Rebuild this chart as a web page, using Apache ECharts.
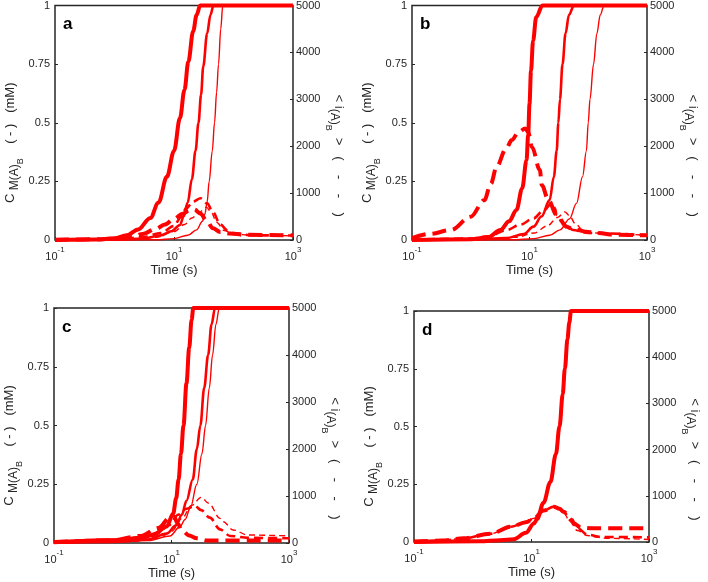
<!DOCTYPE html>
<html><head><meta charset="utf-8">
<script src="https://cdn.jsdelivr.net/npm/echarts@6/dist/echarts.min.js"></script>
<style>html,body{margin:0;padding:0;background:#fff}#c{width:708px;height:582px}</style>
</head><body><div id="c"></div>
<script>
// ---- data: [time (s), value] ----
// panel a
const aS1 = [[0.1,0],[0.5,0.002],[1,0.007],[1.6,0.02],[2.5,0.045],[4,0.094],[5.5,0.16],[7.6,0.27],[10,0.38],[12.6,0.52],[15,0.64],[17.4,0.76],[21,0.89],[24,0.96],[27.5,1],[1000,1]];
const aS2 = [[0.1,0],[1,0.001],[3,0.006],[6,0.02],[9,0.037],[12.6,0.064],[14.5,0.1],[17,0.16],[20,0.26],[23,0.38],[25.8,0.5],[28.5,0.62],[31,0.74],[36,0.88],[41,0.96],[46,1],[1000,1]];
const aS3 = [[0.1,0],[5,0.001],[10,0.006],[17,0.02],[24,0.043],[30,0.08],[33,0.11],[36,0.16],[39,0.25],[44,0.38],[48,0.5],[52,0.63],[56,0.75],[61,0.9],[66,1],[1000,1]];
const aD1 = [[0.1,5],[0.5,15],[1,30],[2,70],[3,130],[5,240],[7,330],[10,450],[14,560],[18,630],[22,650],[28,560],[35,420],[45,250],[60,170],[87,140],[150,110],[1000,100]];
const aD2 = [[0.1,3],[1,15],[3,60],[6,150],[10,300],[13,480],[16,675],[21,820],[28,890],[36,780],[45,600],[60,330],[80,200],[100,150],[200,100],[1000,95]];
const aD3 = [[0.1,2],[2,10],[5,60],[10,180],[15,330],[20,470],[27,600],[35,700],[42,600],[52,380],[70,200],[100,130],[200,100],[1000,90]];
// panel b
const bS1 = [[0.1,0],[1,0.003],[2,0.012],[3.2,0.043],[4.5,0.08],[6,0.128],[7.5,0.22],[8.9,0.34],[9.5,0.45],[10,0.58],[10.6,0.72],[11.5,0.85],[13,0.95],[16.6,1],[1000,1]];
const bS2 = [[0.1,0],[1,0.001],[4,0.008],[8,0.025],[11.7,0.057],[16,0.1],[22,0.17],[26,0.27],[29,0.38],[31,0.5],[33,0.6],[36.5,0.75],[41,0.88],[47,0.96],[57,1],[1000,1]];
const bS3 = [[0.1,0],[5,0.001],[12,0.006],[22,0.02],[33,0.043],[48,0.09],[63,0.156],[80,0.27],[93,0.38],[100,0.5],[107,0.6],[123,0.75],[140,0.88],[160,0.96],[186,1],[1000,1]];
const bD1 = [[0.1,40],[0.2,130],[0.46,213],[1,496],[1.7,850],[2.2,1200],[2.75,1560],[4,1950],[5,2130],[6.5,2300],[8.5,2380],[9.5,2300],[11,1985],[15,1490],[16.2,1170],[21,850],[29,530],[43,283],[55,230],[100,170],[140,150],[300,110],[1000,100]];
const bD2 = [[0.1,10],[1,30],[2,80],[4.1,213],[7,330],[11.7,460],[17,620],[24,780],[27,680],[29,530],[35,400],[43,300],[55,213],[100,150],[1000,100]];
const bD3 = [[0.1,5],[2,20],[6,60],[12,150],[20,300],[30,480],[40,600],[48,520],[60,350],[80,220],[120,150],[1000,100]];
// panel c
const cS1 = [[0.1,0.003],[1.3,0.013],[3,0.022],[4.9,0.034],[8.3,0.07],[10.7,0.126],[12,0.19],[13.2,0.27],[14.5,0.38],[16,0.5],[18,0.68],[20,0.83],[22,0.95],[23.5,1],[1000,1]];
const cS2 = [[0.1,0.002],[1,0.005],[4,0.015],[8.3,0.04],[12,0.075],[15,0.12],[18,0.18],[23,0.27],[27,0.4],[31,0.5],[36,0.66],[42,0.8],[48,0.93],[55,1],[1000,1]];
const cS3 = [[0.1,0.001],[1,0.003],[4,0.01],[9.4,0.03],[14,0.07],[17,0.1],[21,0.15],[27,0.25],[33,0.38],[38,0.5],[44,0.66],[50,0.8],[57,0.93],[65,1],[1000,1]];
const cD1 = [[0.1,20],[1,60],[3,150],[6,320],[9.4,540],[11,560],[13,400],[14.8,277],[20,160],[27,100],[40,55],[1000,50]];
const cD2 = [[0.1,10],[1,40],[3,100],[6,220],[9,380],[13,600],[18,730],[25,790],[32,700],[45,539],[67,290],[100,150],[200,110],[1000,100]];
const cD3 = [[0.1,5],[2,30],[6,100],[10,250],[15,520],[22,800],[32,970],[43,845],[67,525],[76,453],[112,277],[200,170],[1000,150]];
// panel d
const dS1 = [[0.1,0],[1.3,0.003],[3,0.008],[5,0.012],[8,0.04],[11,0.08],[12.5,0.1],[16,0.17],[21,0.26],[26,0.38],[30,0.5],[34,0.64],[37,0.75],[41,0.88],[44,0.95],[47,1],[1000,1]];
const dS2 = dS1;
const dS3 = dS1;
const dD1 = [[0.1,10],[0.3,30],[0.7,80],[2,180],[4.5,330],[8,430],[11,512],[16,680],[24,765],[30,720],[35,656],[49,476],[52,405],[70,310],[100,300],[1000,300]];
const dD2 = [[0.1,10],[0.3,30],[0.7,80],[2,180],[4.5,330],[8,430],[11,512],[16,680],[24,765],[30,720],[35,656],[49,440],[60,300],[90,160],[150,110],[1000,100]];
const dD3 = [[0.1,10],[0.3,30],[0.7,80],[2,180],[4.5,330],[8,430],[11,512],[16,680],[24,765],[30,720],[35,640],[45,450],[60,250],[90,140],[115,115],[200,80],[1000,55]];

const panelLetters = ['a','b','c','d'];
const leftTicks = [0, 0.25, 0.5, 0.75, 1];
const rightTicks = [0, 1000, 2000, 3000, 4000, 5000];
const xExponents = [-1, 1, 3];

// ---- layout ----
const FONT = 'Liberation Sans, Arial, Helvetica, sans-serif';
const TXT = '#262626';
const RED = '#ff0000';
const grids = [
  {left: 55, top: 5, width: 238, height: 235},
  {left: 412, top: 5, width: 235, height: 235},
  {left: 54, top: 308, width: 235, height: 235},
  {left: 414, top: 311, width: 235, height: 231}
];
const solidSets = [[aS1,aS2,aS3],[bS1,bS2,bS3],[cS1,cS2,cS3],[dS1,dS2,dS3]];
const dashedSets = [[aD1,aD2,aD3],[bD1,bD2,bD3],[cD1,cD2,cD3],[dD1,dD2,dD3]];
const solidW = [4, 2.6, 1.4];
const dashedW = [4, 2.6, 1.4];
const dashPat = [[14,7],[9,5],[6,4]];

const nameRich = {
  m: {fontSize: 13, color: TXT, fontFamily: FONT, verticalAlign: 'top', lineHeight: 13},
  s: {fontSize: 12, color: TXT, fontFamily: FONT, verticalAlign: 'top', lineHeight: 12, padding: [5, 0, 0, 0]},
  ss: {fontSize: 9, color: TXT, fontFamily: FONT, verticalAlign: 'top', lineHeight: 9, padding: [12, 0, 0, 0]}
};

const option = {
  animation: false,
  backgroundColor: '#fff',
  textStyle: {fontFamily: FONT},
  title: [], grid: [], xAxis: [], yAxis: [], series: []
};

grids.forEach((g, i) => {
  option.grid.push(Object.assign({show: true, borderColor: TXT, borderWidth: 1.5, backgroundColor: '#fff'}, g));
  option.title.push({text: panelLetters[i], left: g.left + 3, top: g.top + 6,
    textStyle: {fontFamily: FONT, fontSize: 17, fontWeight: 'bold', color: '#000'}});
  option.xAxis.push({
    type: 'log', logBase: 10, gridIndex: i, min: 0.1, max: 1000, interval: 2,
    name: 'Time (s)', nameLocation: 'middle', nameGap: 24,
    nameTextStyle: {fontFamily: FONT, fontSize: 13, color: TXT},
    axisLine: {show: false},
    axisTick: {show: true, inside: true, length: 3, lineStyle: {color: TXT}},
    splitLine: {show: false}, minorTick: {show: false},
    axisLabel: {
      margin: 6, color: TXT, fontFamily: FONT, fontSize: 11,
      formatter: v => {
        const e = Math.round(Math.log10(v));
        return xExponents.indexOf(e) >= 0 ? '{b|10}{s|' + e + '}' : '';
      },
      rich: {
        b: {fontSize: 11, color: TXT, fontFamily: FONT, verticalAlign: 'top', lineHeight: 11, padding: [5, 0, 0, 0]},
        s: {fontSize: 8, color: TXT, fontFamily: FONT, verticalAlign: 'top', lineHeight: 8}
      }
    }
  });
  option.yAxis.push({
    type: 'value', gridIndex: i, min: 0, max: 1, interval: 0.25, position: 'left',
    name: '{m|C}{s| M(A)}{ss|B}{m|    ( - )   (mM)}', nameLocation: 'middle', nameGap: 31, nameRotate: 90,
    nameTextStyle: {fontFamily: FONT, fontSize: 13, color: TXT, padding: [0, 40, 0, 0], rich: nameRich},
    axisLine: {show: false},
    axisTick: {show: true, inside: true, length: 3, lineStyle: {color: TXT}},
    splitLine: {show: false},
    axisLabel: {margin: 5, color: TXT, fontFamily: FONT, fontSize: 11,
      formatter: v => leftTicks.indexOf(v) >= 0 ? String(v) : ''}
  });
  option.yAxis.push({
    type: 'value', gridIndex: i, min: 0, max: 5000, interval: 1000, position: 'right',
    name: '{m|< i}{s|(A)}{ss|B}{m|  >   (    -    -    )}', nameLocation: 'middle', nameGap: 30, nameRotate: -90,
    nameTextStyle: {fontFamily: FONT, fontSize: 13, color: TXT, padding: [0, 0, 0, 66], rich: nameRich},
    axisLine: {show: false},
    axisTick: {show: true, inside: true, length: 3, lineStyle: {color: TXT}},
    splitLine: {show: false},
    axisLabel: {margin: 3, color: TXT, fontFamily: FONT, fontSize: 11,
      formatter: v => rightTicks.indexOf(v) >= 0 ? String(v) : ''}
  });
  solidSets[i].forEach((d, k) => {
    option.series.push({type: 'line', xAxisIndex: i, yAxisIndex: 2 * i, data: d,
      showSymbol: false, smooth: 0.35, smoothMonotone: 'x', clip: false, z: 3,
      lineStyle: {color: RED, width: solidW[k]}});
  });
  dashedSets[i].forEach((d, k) => {
    option.series.push({type: 'line', xAxisIndex: i, yAxisIndex: 2 * i + 1, data: d,
      showSymbol: false, smooth: 0.35, smoothMonotone: 'x', clip: false, z: 3,
      lineStyle: {color: RED, width: dashedW[k], type: dashPat[k]}});
  });
});

const chart = echarts.init(document.getElementById('c'), null, {renderer: 'canvas'});
chart.setOption(option);
</script></body></html>
